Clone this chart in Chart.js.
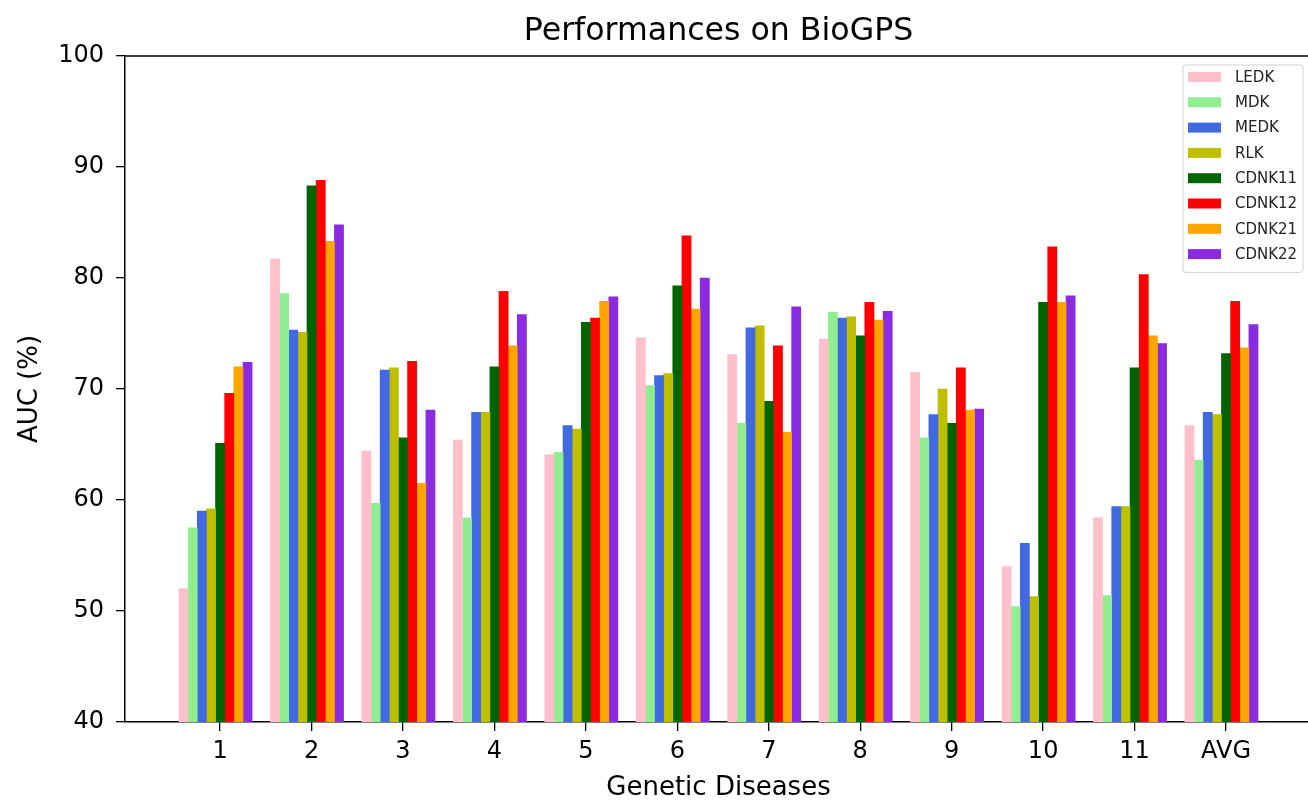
<!DOCTYPE html>
<html>
<head>
<meta charset="utf-8">
<title>Performances on BioGPS</title>
<script src="https://cdn.jsdelivr.net/npm/chart.js@4.4.1/dist/chart.umd.min.js"></script>
<style>
  html, body { margin: 0; padding: 0; background: #fff; overflow: hidden; }
  #wrap { width: 1320px; height: 803px; }
</style>
</head>
<body>
<div id="wrap"><canvas id="aucChart" width="1320" height="803"></canvas></div>
<script>
const diseases = ["1", "2", "3", "4", "5", "6", "7", "8", "9", "10", "11", "AVG"];
const methods = ["LEDK", "MDK", "MEDK", "RLK", "CDNK11", "CDNK12", "CDNK21", "CDNK22"];
const colors = ["#ffc0cb", "#90ee90", "#4169e1", "#bfbf00", "#006400", "#ff0000", "#ffa500", "#8a2be2"];

// AUC (%) per disease, last entry is the average
const ledk   = [52.0, 81.7, 64.4, 65.4, 64.1, 74.6, 73.1, 74.5, 71.5, 54.0, 58.4, 66.7];
const mdk    = [57.5, 78.6, 59.7, 58.4, 64.3, 70.3, 66.9, 76.9, 65.6, 50.4, 51.4, 63.6];
const medk   = [59.0, 75.3, 71.7, 67.9, 66.7, 71.2, 75.5, 76.4, 67.7, 56.1, 59.4, 67.9];
const rlk    = [59.2, 75.1, 71.9, 67.9, 66.4, 71.4, 75.7, 76.5, 70.0, 51.3, 59.4, 67.7];
const cdnk11 = [65.1, 88.3, 65.6, 72.0, 76.0, 79.3, 68.9, 74.8, 66.9, 77.8, 71.9, 73.2];
const cdnk12 = [69.6, 88.8, 72.5, 78.8, 76.4, 83.8, 73.9, 77.8, 71.9, 82.8, 80.3, 77.9];
const cdnk21 = [72.0, 83.3, 61.5, 73.9, 77.9, 77.2, 66.1, 76.2, 68.1, 77.8, 74.8, 73.7];
const cdnk22 = [72.4, 84.8, 68.1, 76.7, 78.3, 80.0, 77.4, 77.0, 68.2, 78.4, 74.1, 75.8];

const series = [ledk, mdk, medk, rlk, cdnk11, cdnk12, cdnk21, cdnk22];
const yTicks = [40, 50, 60, 70, 80, 90, 100];

const barWidth = 0.1;
const font = '"DejaVu Sans", sans-serif';
Chart.defaults.font.family = font;
Chart.defaults.color = "#000";

// bars sit side by side around each integer position, like x + k*width
const datasets = methods.map((name, k) => ({
  label: name,
  data: series[k].map((v, i) => ({ x: i + 1 + (k - 4) * barWidth, y: v })),
  backgroundColor: colors[k],
  borderWidth: 0,
  grouped: false,
  categoryPercentage: 1,
  barPercentage: 1,
}));

// title, top spine and the boxed legend in the upper right corner
const decorations = {
  id: "decorations",
  afterDraw(chart) {
    const { ctx, chartArea } = chart;
    ctx.save();

    ctx.strokeStyle = "#000";
    ctx.lineWidth = 1.5;
    ctx.beginPath();
    ctx.moveTo(chartArea.left, chartArea.top);
    ctx.lineTo(chartArea.right, chartArea.top);
    ctx.stroke();

    ctx.fillStyle = "#000";
    ctx.font = "31.6px " + font;
    ctx.textAlign = "center";
    ctx.textBaseline = "alphabetic";
    ctx.fillText("Performances on BioGPS", (chartArea.left + chartArea.right) / 2, chartArea.top - 16);

    const boxW = 120;
    const rowH = 25.3;
    const boxX = chartArea.right - 9 - boxW;
    const boxY = chartArea.top + 9;
    const boxH = rowH * methods.length + 5;

    ctx.fillStyle = "rgba(255,255,255,0.8)";
    ctx.strokeStyle = "#d0d0d0";
    ctx.lineWidth = 1;
    ctx.beginPath();
    ctx.roundRect(boxX, boxY, boxW, boxH, 3);
    ctx.fill();
    ctx.stroke();

    ctx.font = "15px " + font;
    ctx.textAlign = "left";
    ctx.textBaseline = "middle";
    methods.forEach((name, k) => {
      const cy = boxY + 12 + k * rowH;
      ctx.fillStyle = colors[k];
      ctx.fillRect(boxX + 5, cy - 5, 33, 10);
      ctx.fillStyle = "#222";
      ctx.fillText(name, boxX + 52, cy + 1);
    });

    ctx.restore();
  },
};

new Chart(document.getElementById("aucChart"), {
  type: "bar",
  data: { datasets },
  options: {
    responsive: false,
    animation: false,
    layout: { padding: { top: 56, right: 8, left: 0, bottom: 0 } },
    plugins: {
      legend: { display: false },
      title: { display: false },
      tooltip: { enabled: false },
    },
    scales: {
      x: {
        type: "linear",
        offset: false,
        min: -0.04,
        max: 12.94,
        afterBuildTicks: (scale) => {
          scale.ticks = diseases.map((_, i) => ({ value: i + 1 }));
        },
        afterFit: (scale) => {
          scale.height = 81;
        },
        ticks: {
          callback: (value) => diseases[value - 1],
          font: { size: 24 },
          color: "#000",
          padding: 6,
          maxRotation: 0,
          autoSkip: false,
        },
        grid: { offset: false, drawOnChartArea: false, tickLength: 9, color: "#000", lineWidth: 1.3 },
        border: { color: "#000", width: 1.5 },
        title: {
          display: true,
          text: "Genetic Diseases",
          font: { size: 26, lineHeight: 1.05 },
          color: "#000",
          padding: { top: 2, bottom: 1 },
        },
      },
      y: {
        min: 40,
        max: 100,
        afterBuildTicks: (scale) => {
          scale.ticks = yTicks.map((v) => ({ value: v }));
        },
        afterFit: (scale) => {
          scale.width = 125;
        },
        ticks: { font: { size: 24 }, color: "#000", padding: 12 },
        grid: { drawOnChartArea: false, tickLength: 9, color: "#000", lineWidth: 1.3 },
        border: { color: "#000", width: 1.5 },
        title: {
          display: true,
          text: "AUC (%)",
          font: { size: 26 },
          color: "#000",
          padding: { top: 15, bottom: 0 },
        },
      },
    },
  },
  plugins: [decorations],
});
</script>
</body>
</html>
